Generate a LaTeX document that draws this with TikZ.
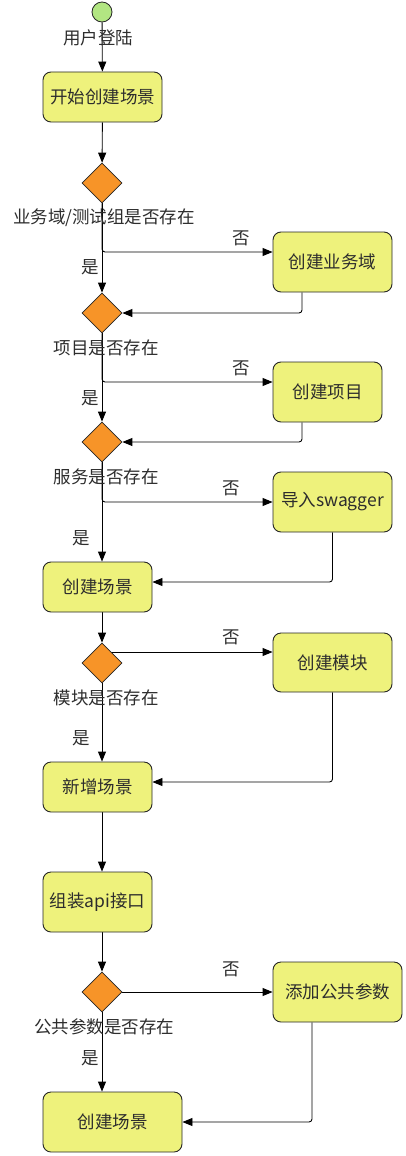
\documentclass[tikz,border=0pt]{standalone}
\usepackage{fontspec}
\setmainfont{Noto Sans CJK SC}
\usetikzlibrary{arrows.meta,shapes.geometric,backgrounds}
\definecolor{boxfill}{RGB}{238,242,124}
\definecolor{diafill}{RGB}{247,148,40}
\definecolor{startfill}{RGB}{178,230,130}
\definecolor{txt}{RGB}{45,45,45}
\begin{document}
\begin{tikzpicture}[x=1pt,y=-1pt,
  every node/.style={font=\fontsize{17.5}{20}\selectfont, text=txt},
  stepbox/.style={draw=black!85, line width=0.9pt, fill=boxfill, rounded corners=8pt, inner sep=0pt},
  decision/.style={draw=black!85, line width=0.8pt, fill=diafill, diamond, minimum width=40pt, minimum height=40pt, inner sep=0pt},
  startnode/.style={draw=black!85, line width=0.8pt, fill=startfill, circle, minimum size=20pt, inner sep=0pt},
  lbl/.style={inner sep=0pt},
  arr/.style={draw=black, line width=0.9pt, -{Triangle[length=10pt,width=8pt]}, rounded corners=3pt}]
\useasboundingbox (0,0) rectangle (406,1156);
\node[startnode] (s) at (102,12) {};
\node[stepbox, minimum width=119pt, minimum height=50pt] (b0) at (102.5,97) {开始创建场景};
\node[decision] (d1) at (102,183) {};
\node[stepbox, minimum width=119pt, minimum height=60pt] (b1) at (332.5,262) {创建业务域};
\node[decision] (d2) at (102,313) {};
\node[stepbox, minimum width=109pt, minimum height=60pt] (b2) at (327.5,392) {创建项目};
\node[decision] (d3) at (102,442) {};
\node[stepbox, minimum width=119pt, minimum height=60pt] (b3) at (332.5,502) {导入swagger};
\node[stepbox, minimum width=109pt, minimum height=50pt] (c1) at (97.5,587) {创建场景};
\node[decision] (d4) at (102,663) {};
\node[stepbox, minimum width=119pt, minimum height=59pt] (b4) at (332.5,662.5) {创建模块};
\node[stepbox, minimum width=109pt, minimum height=50pt] (c2) at (97.5,787) {新增场景};
\node[stepbox, minimum width=109pt, minimum height=60pt] (c3) at (97.5,902) {组装api接口};
\node[decision] (d5) at (102,992) {};
\node[stepbox, minimum width=129pt, minimum height=60pt] (b5) at (337.5,992) {添加公共参数};
\node[stepbox, minimum width=139pt, minimum height=60pt] (c4) at (112.5,1122) {创建场景};

\coordinate (m1) at ([yshift=10pt]b1.west);
\coordinate (m2) at ([yshift=10pt]b2.west);
\coordinate (m4) at ([yshift=10.5pt]b4.west);
\coordinate (r1) at ([xshift=-30.5pt]b1.south);
\coordinate (r2) at ([xshift=-25.5pt]b2.south);
\coordinate (r5) at ([xshift=-25.5pt]b5.south);
\coordinate (t1) at ([yshift=5pt]c1.east);
\coordinate (t2) at ([yshift=5pt]c2.east);

\begin{pgfonlayer}{background}
\draw[arr] (s) -- (b0);
\draw[arr] (b0) -- (d1);
\draw[arr] (d1.south) |- (m1);
\draw[arr] (d1) -- (d2);
\draw[arr] (r1) |- (d2.east);
\draw[arr] (d2.south) |- (m2);
\draw[arr] (d2) -- (d3);
\draw[arr] (r2) |- (d3.east);
\draw[arr] (d3.south) |- (b3.west);
\draw[arr] (d3) -- (c1.north -| d3.center);
\draw[arr] (b3.south) |- (t1);
\draw[arr] (c1.south -| d4.center) -- (d4);
\draw[arr] (d4.center |- m4) -- (m4);
\draw[arr] (d4) -- (c2.north -| d4.center);
\draw[arr] (b4.south) |- (t2);
\draw[arr] (c2.south -| d4.center) -- (c3.north -| d4.center);
\draw[arr] (c3.south -| d5.center) -- (d5);
\draw[arr] (d5) -- (b5);
\draw[arr] (d5) -- (c4.north -| d5.center);
\draw[arr] (r5) |- (c4.east);
\end{pgfonlayer}

\node[lbl] (l0) at (98,38) {用户登陆};
\node[lbl] (l1) at (104,218) {业务域/测试组是否存在};
\node[lbl] (n1) at (241,238) {否};
\node[lbl] (y1) at (90,267) {是};
\node[lbl] (l2) at (106,348) {项目是否存在};
\node[lbl] (n2) at (241,368) {否};
\node[lbl] (y2) at (90,398) {是};
\node[lbl] (l3) at (106,477) {服务是否存在};
\node[lbl] (n3) at (231,488) {否};
\node[lbl] (y3) at (81,538) {是};
\node[lbl] (n4) at (231,637) {否};
\node[lbl] (l4) at (106,698) {模块是否存在};
\node[lbl] (y4) at (81,738) {是};
\node[lbl] (n5) at (231,969) {否};
\node[lbl] (l5) at (104,1027) {公共参数是否存在};
\node[lbl] (y5) at (90,1058) {是};
\end{tikzpicture}
\end{document}
